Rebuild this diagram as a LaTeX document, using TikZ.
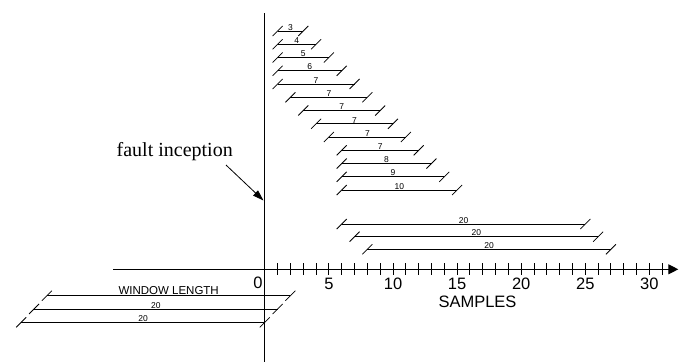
\documentclass[tikz,border=0pt]{standalone}
\usepackage{fontspec}
\setmainfont{Liberation Serif}
\setsansfont{Liberation Sans}
\usetikzlibrary{arrows.meta}
\def\xo{264.8}
\def\ux{12.82}
\tikzset{
  barline/.style={line width=0.8bp, line cap=butt},
  axisline/.style={line width=1.1bp},
  smalllbl/.style={font=\sffamily\fontsize{8.5bp}{9bp}\selectfont, inner sep=0.6bp, anchor=south},
  winlbl/.style={font=\sffamily\fontsize{11.5bp}{12bp}\selectfont, inner sep=0.4bp, anchor=south},
  numlbl/.style={font=\sffamily\fontsize{16.5bp}{18bp}\selectfont, inner sep=0bp},
}
\newcommand\winbar[5]{% left, right, y, label, style
  \draw[barline] ({\xo+\ux*(#1)},#3) -- ({\xo+\ux*(#2)},#3);
  \draw[barline] ({\xo+\ux*(#1)-5},{#3+5}) -- ({\xo+\ux*(#1)+5},{#3-5});
  \draw[barline] ({\xo+\ux*(#2)-5},{#3+5}) -- ({\xo+\ux*(#2)+5},{#3-5});
  \node[#5] at ({\xo+\ux*((#1)+(#2))/2},#3) {#4};
}
\begin{document}
\begin{tikzpicture}[x=1bp,y=-1bp]
\useasboundingbox (0,0) rectangle (694,362);
% vertical line
\coordinate (vtop) at (\xo,13);
\coordinate (vbot) at (\xo,362);
\draw[axisline] (vtop) -- (vbot);
% axis
\coordinate (ax0) at (113.3,269.3);
\coordinate (ax1) at (678.3,269.3);
\draw[axisline,-{Triangle[length=10bp,width=10bp]}] (ax0) -- (ax1);
\foreach \i in {1,...,31}{
  \draw[line width=0.9bp] ({\xo+\ux*\i},263.3) -- ({\xo+\ux*\i},275.3);
}
\node[numlbl] (n0) at (258,283) {0};
\foreach \i in {5,10,15,20,25,30}{
  \node[numlbl] (n\i) at ({\xo+\ux*\i},283.5) {\i};
}
\node[numlbl] (samples) at (477.5,302) {SAMPLES};
% windows
\foreach \l/\r/\y/\t in {1/3/31/3,1/4/44.3/4,1/5/57.5/5,1/6/70.8/6,1/7/84/7,2/8/97.3/7,3/9/110.5/7,4/10/123.8/7,5/11/137/7,6/12/150.3/7,6/13/163.5/8,6/14/176.8/9,6/15/190/10,6/25/224/20,7/26/236.7/20,8/27/249.3/20,-18/1/309/20,-19/0/322.3/20}{
  \winbar{\l}{\r}{\y}{\t}{smalllbl}
}
\winbar{-17}{2}{295.7}{WINDOW LENGTH}{winlbl}
% fault inception
\node[font=\fontsize{20bp}{22bp}\selectfont, anchor=base, inner sep=0bp] (fault) at (174.7,156.7) {fault inception};
\coordinate (fa0) at (226,165);
\coordinate (fa1) at (263.5,200.5);
\draw[line width=0.8bp,-{Triangle[length=11bp,width=7bp]}] (fa0) -- (fa1);
\end{tikzpicture}
\end{document}
